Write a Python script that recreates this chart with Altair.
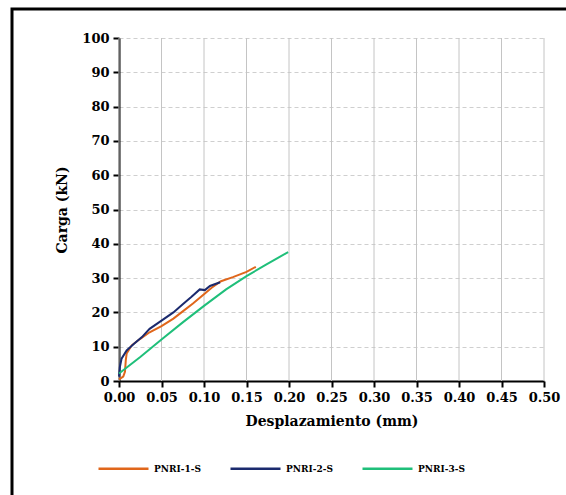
import altair as alt
import pandas as pd

# PNRI-1-S (orange)
x1 = [0.0, 0.005, 0.007, 0.008, 0.009, 0.015, 0.025, 0.036, 0.05, 0.064, 0.075, 0.087, 0.1, 0.109, 0.12, 0.134, 0.15, 0.161]
y1 = [0.5, 1.3, 2.7, 6.1, 8.0, 10.4, 12.3, 14.2, 16.0, 18.2, 20.3, 22.6, 25.3, 27.2, 29.1, 30.3, 31.8, 33.3]
# PNRI-2-S (navy)
x2 = [0.0, 0.001, 0.003, 0.009, 0.017, 0.027, 0.036, 0.05, 0.064, 0.075, 0.085, 0.095, 0.101, 0.107, 0.119]
y2 = [1.3, 4.1, 6.5, 8.9, 10.7, 12.8, 15.2, 17.6, 20.0, 22.4, 24.5, 26.7, 26.5, 27.7, 28.8]
# PNRI-3-S (green)
x3 = [0.0, 0.025, 0.05, 0.075, 0.1, 0.126, 0.15, 0.173, 0.187, 0.199]
y3 = [2.2, 7.0, 12.1, 17.1, 21.9, 26.7, 30.6, 33.9, 35.9, 37.6]

series = ["PNRI-1-S", "PNRI-2-S", "PNRI-3-S"]
colors = ["#E0661B", "#1B2A6E", "#1FBF7A"]
x_ticks = [0.0, 0.05, 0.1, 0.15, 0.2, 0.25, 0.3, 0.35, 0.4, 0.45, 0.5]

rows = []
for name, xs, ys in zip(series, [x1, x2, x3], [y1, y2, y3]):
    for i, (a, b) in enumerate(zip(xs, ys)):
        rows.append({"serie": name, "d": a, "c": b, "o": i})
df = pd.DataFrame(rows)

font = "DejaVu Serif"

xscale = alt.Scale(domain=[0, 0.5], nice=False)
yscale = alt.Scale(domain=[0, 100], nice=False)

vgrid = alt.Chart(pd.DataFrame({"g": x_ticks})).mark_rule(
    color="#c4c4c4", strokeWidth=1
).encode(
    x=alt.X("g:Q", scale=xscale),
    y=alt.datum(0, scale=yscale),
    y2=alt.datum(100),
)

lines = alt.Chart(df).mark_line(strokeWidth=2).encode(
    x=alt.X("d:Q", scale=xscale,
            axis=alt.Axis(title="Desplazamiento (mm)", format=".2f", values=x_ticks,
                          grid=False, labelFlush=False, labelOverlap=False,
                          titlePadding=10)),
    y=alt.Y("c:Q", scale=yscale,
            axis=alt.Axis(title="Carga (kN)", grid=True, titlePadding=12)),
    color=alt.Color("serie:N", scale=alt.Scale(domain=series, range=colors),
                    legend=alt.Legend(title=None, orient="none", direction="horizontal",
                                      legendX=-22, legendY=404,
                                      symbolType="stroke", symbolSize=2500,
                                      symbolStrokeWidth=2.5, columnPadding=24,
                                      labelFont=font, labelFontSize=9,
                                      labelFontWeight="bold", labelColor="black")),
    order="o:Q",
)

frame = alt.Chart(pd.DataFrame({"a": [0]})).mark_rect(
    fill="transparent", stroke="black", strokeWidth=3, clip=False
).encode(x=alt.value(-107), x2=alt.value(458), y=alt.value(-29), y2=alt.value(468))

chart = alt.layer(frame, vgrid, lines).resolve_axis(x="shared", y="shared").properties(
    width=425, height=343,
    autosize=alt.AutoSizeParams(type="none"),
    padding={"left": 119, "top": 38, "right": 22, "bottom": 114},
    background="white",
).configure_view(stroke=None).configure_axis(
    labelFont=font, labelFontSize=13, labelFontWeight="bold", labelColor="black",
    titleFont=font, titleFontSize=14, titleFontWeight="bold", titleColor="black",
    domainColor="black", domainWidth=2, tickColor="black", tickWidth=2, tickSize=6,
    gridColor="#cfcfcf", gridWidth=1, labelPadding=4,
).configure_axisY(
    tickCount=10, labelOverlap=False, labelFlush=False, gridDash=[4, 3],
)

chart.save("out.html", embed_options={"renderer": "svg", "actions": False})
